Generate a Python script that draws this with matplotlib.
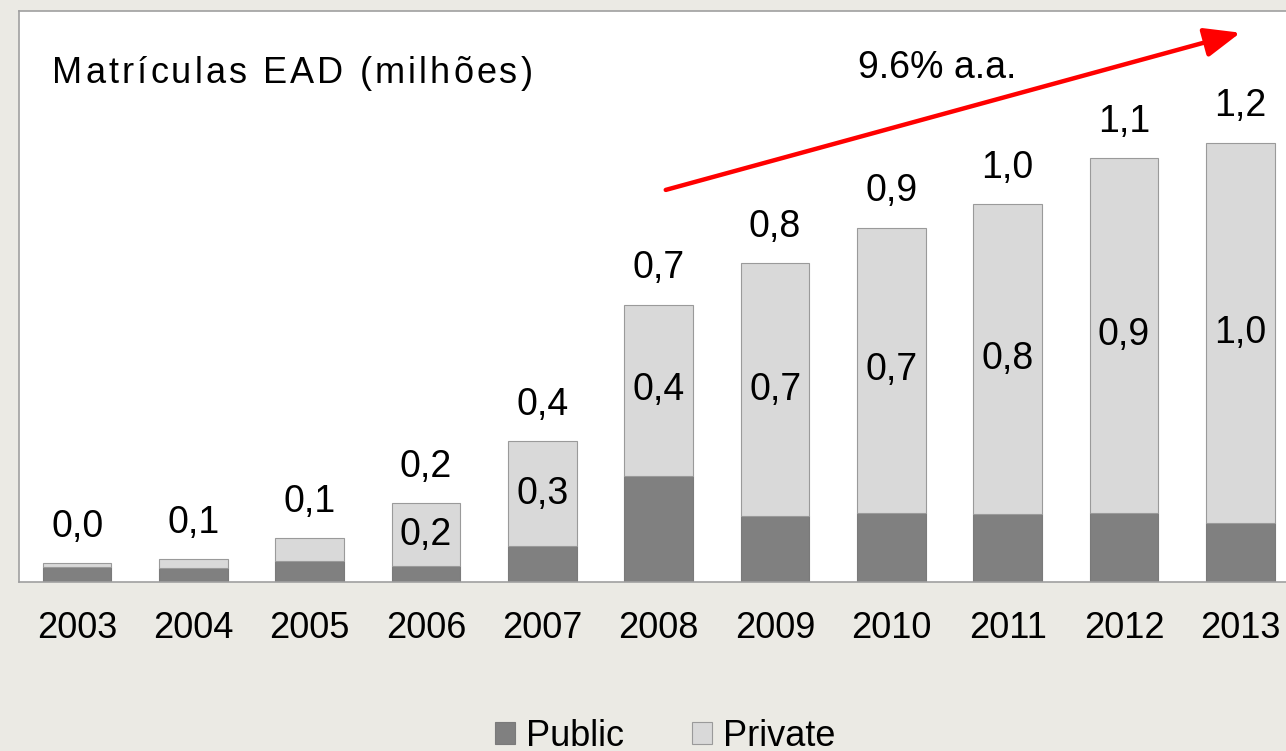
import numpy as np
import matplotlib.pyplot as plt

# Matrículas EAD (milhões)
anos = ["2003", "2004", "2005", "2006", "2007", "2008", "2009", "2010", "2011", "2012", "2013"]
publico = [0.040, 0.036, 0.055, 0.042, 0.094, 0.279, 0.173, 0.182, 0.178, 0.182, 0.155]
privado = [0.009, 0.024, 0.060, 0.165, 0.276, 0.449, 0.665, 0.749, 0.815, 0.932, 0.999]
# rótulos internos só para 2006 em diante
rotulo_privado = ["", "", "", "0,2", "0,3", "0,4", "0,7", "0,7", "0,8", "0,9", "1,0"]
titulo = "Matrículas EAD (milhões)"
crescimento = "9.6% a.a."

plt.rcParams['font.family'] = ['Liberation Sans', 'DejaVu Sans']

W, H = 1286, 751
fig = plt.figure(figsize=(W / 100, H / 100), dpi=100, facecolor='#ebeae4')
ax = fig.add_axes([19 / W, 169 / H, 1290 / W, 571 / H])
ax.set_facecolor('white')

x = np.arange(len(anos))
total = np.array(publico) + np.array(privado)

ax.bar(x, publico, width=0.59, color='#808080', edgecolor='#7a7a7a', linewidth=0.8, label='Public')
ax.bar(x, privado, width=0.59, bottom=publico, color='#d9d9d9', edgecolor='#9a9a9a', linewidth=0.8,
       label='Private')

# totais acima das barras
for i, t in enumerate(total):
    ax.annotate(f"{t:.1f}".replace('.', ','), (x[i], t), xytext=(0, 19), textcoords='offset points',
                ha='center', va='baseline', fontsize=27)

# rótulos dentro do privado
for i, r in enumerate(rotulo_privado):
    if r:
        ax.text(x[i], publico[i] + privado[i] / 2, r, ha='center', va='center', fontsize=27)

ax.set_xlim(-0.5, 10.59)
ax.set_ylim(0, 1.5)
ax.set_xticks(x)
ax.set_xticklabels(anos, fontsize=26)
ax.tick_params(axis='x', length=0, pad=21)
ax.set_yticks([])
for s in ['left', 'top', 'bottom']:
    ax.spines[s].set_color('#a0a0a0')
    ax.spines[s].set_linewidth(1.2)
ax.spines['right'].set_visible(False)

# título com espaçamento entre letras
renderer = fig.canvas.get_renderer()
px = 52
for ch in titulo:
    t = fig.text(px / W, 1 - 83 / H, ch, fontsize=26, ha='left', va='baseline')
    px += t.get_window_extent(renderer).width + 3.1

# seta de crescimento
ax.annotate("", xy=(10.0, 1.443), xytext=(5.06, 1.03),
            arrowprops=dict(arrowstyle='-|>,head_length=2.2,head_width=0.9', color='#ff0000', lw=3.2,
                            shrinkA=0, shrinkB=0))
ax.text(7.39, 1.351, crescimento, ha='center', va='center', fontsize=27)

fig.legend(loc='center', bbox_to_anchor=(665 / W, 1 - 736 / H), ncol=2, frameon=False, fontsize=26,
           handlelength=0.55, handleheight=0.55, handletextpad=0.3, columnspacing=1.9)

fig.savefig('out.png', dpi=100, facecolor=fig.get_facecolor())
